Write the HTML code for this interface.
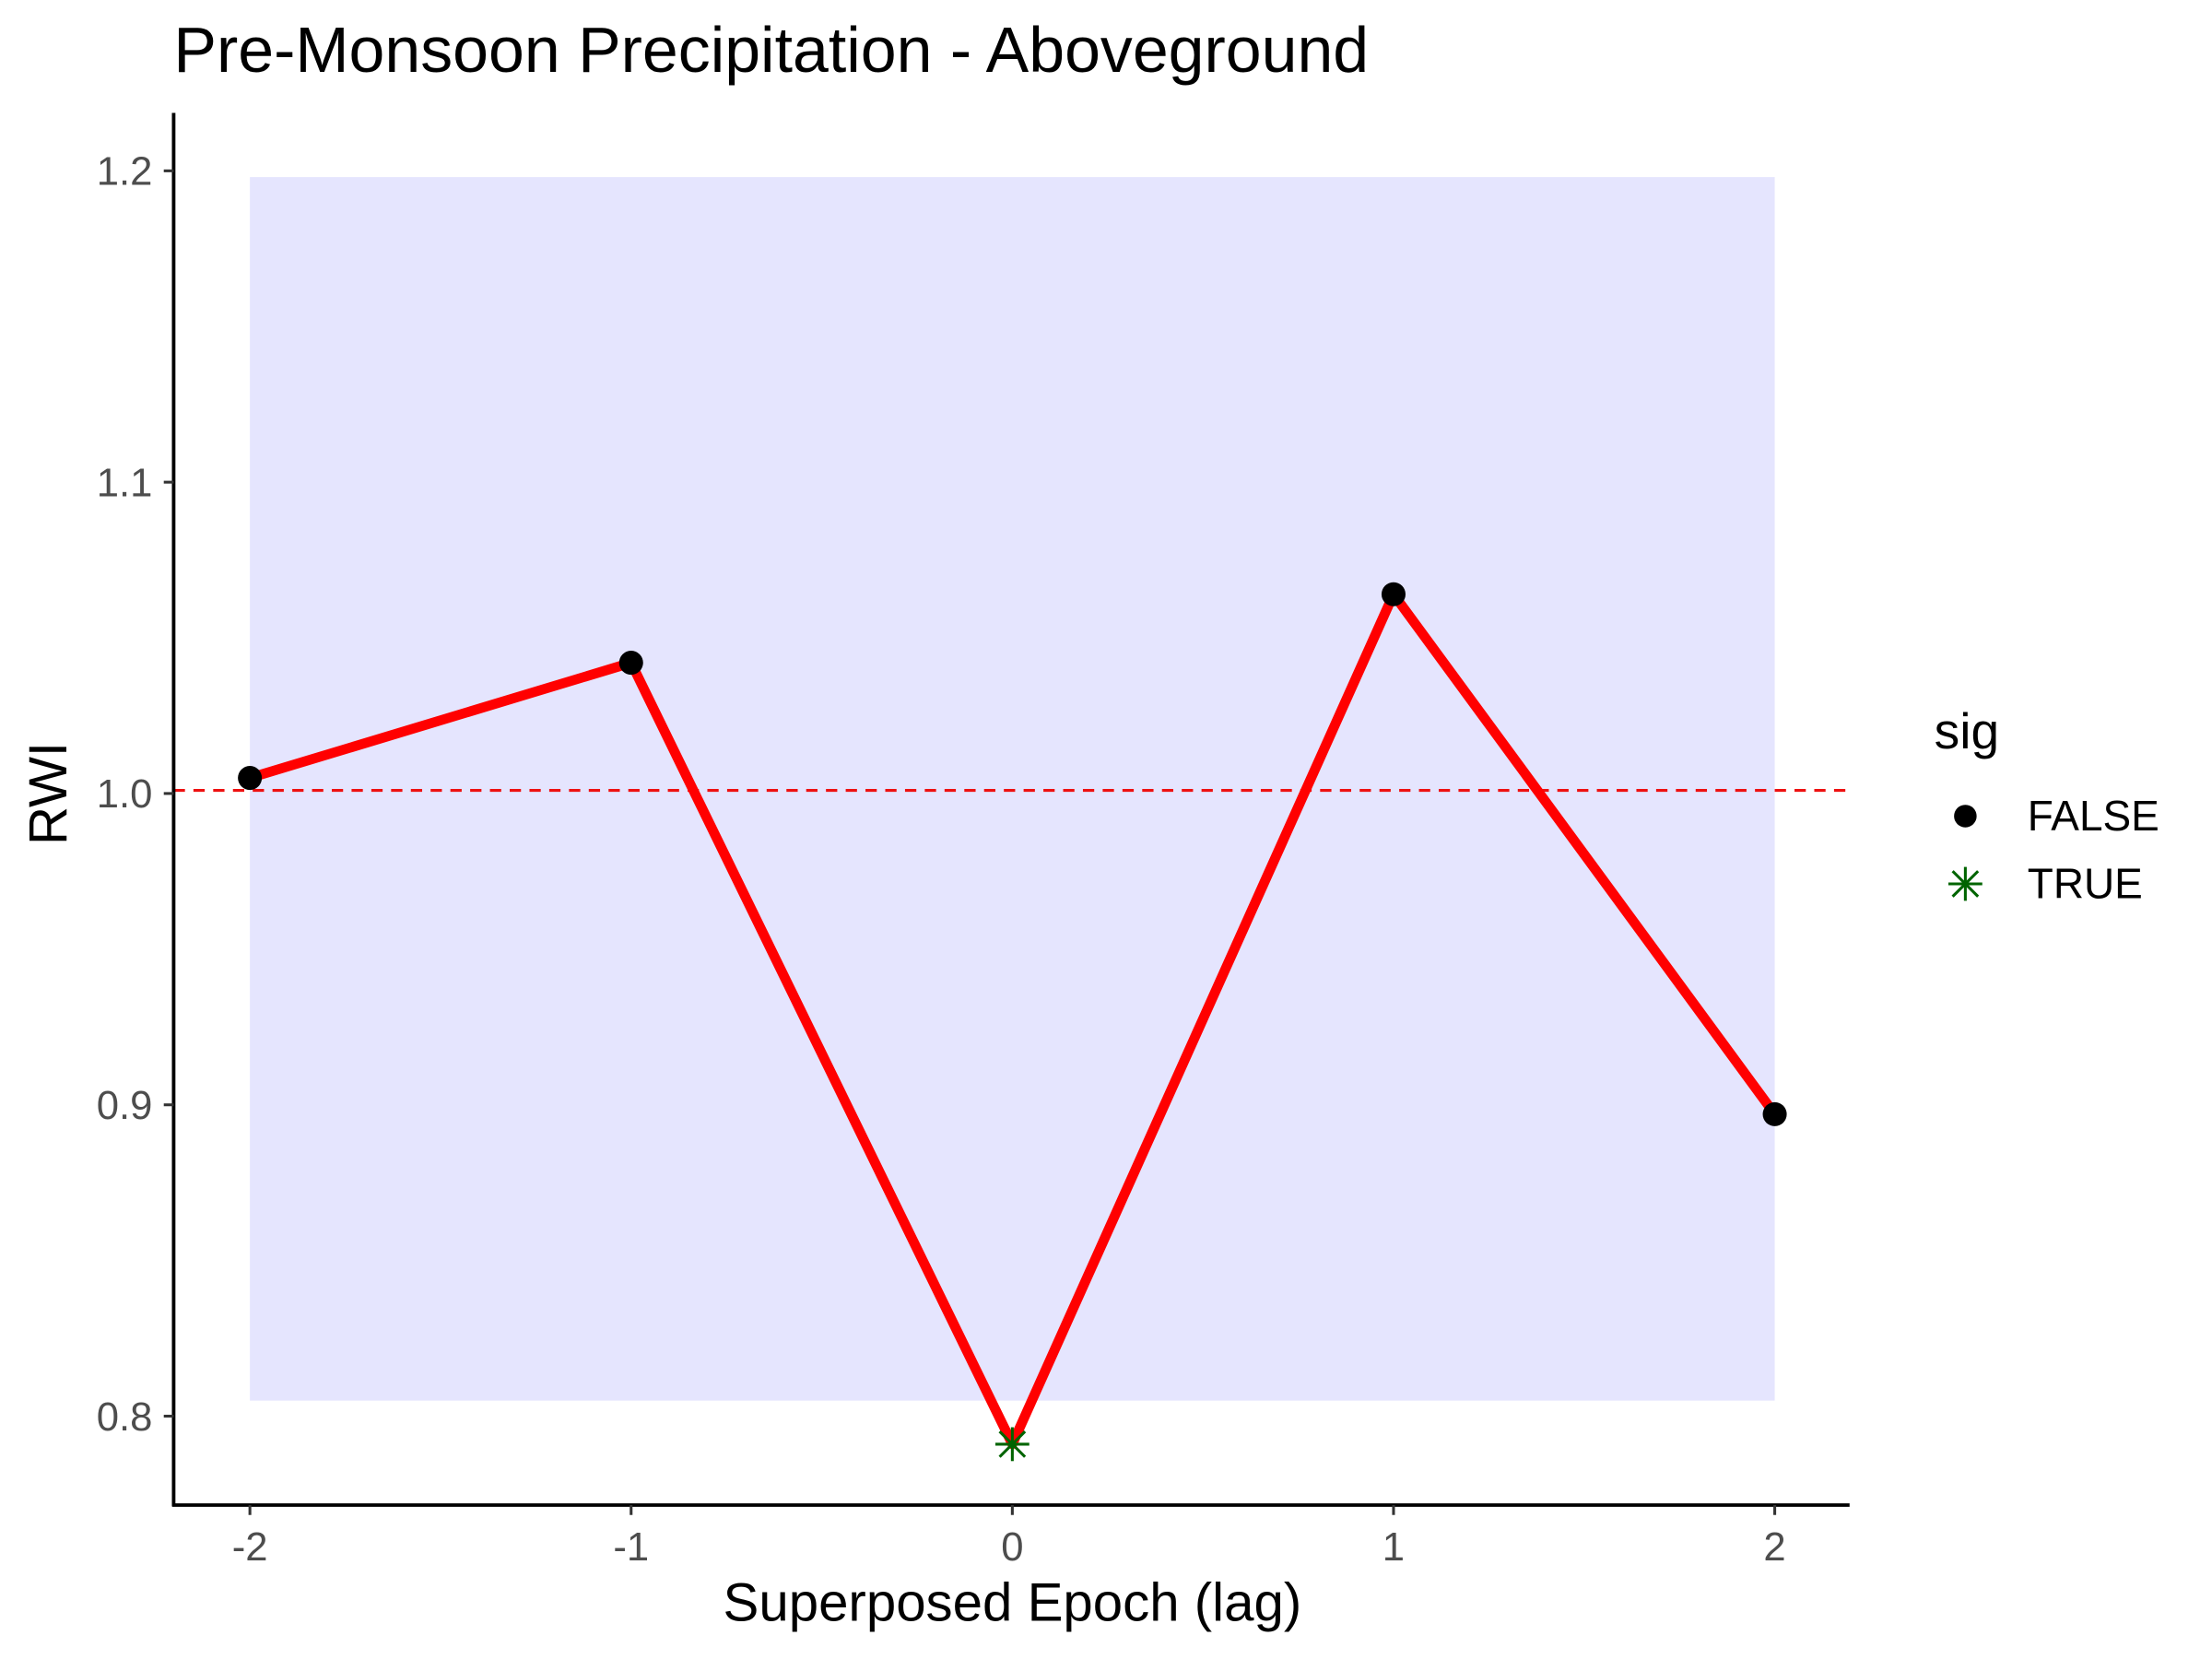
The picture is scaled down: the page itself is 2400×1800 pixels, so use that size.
<!DOCTYPE html>
<html><head><meta charset="utf-8"><style>
html,body{margin:0;padding:0;background:#fff;}
svg{display:block;font-family:"Liberation Sans",Arial,sans-serif;}
</style></head><body>
<svg id="chart" width="2400" height="1800" viewBox="0 0 1566.7 1175" preserveAspectRatio="none" xmlns="http://www.w3.org/2000/svg">
<rect width="1600" height="1200" fill="#fff"/>
<text x="123" y="51" font-size="45.6" fill="#000">Pre-Monsoon Precipitation - Aboveground</text>
<g id="plot"></g>
<text x="717" y="1148" font-size="38" text-anchor="middle">Superposed Epoch (lag)</text>
<text transform="translate(47,562) rotate(-90)" font-size="38" text-anchor="middle">RWI</text>
<g>
<text x="1370" y="530" font-size="36">sig</text>
<circle cx="1392" cy="578" r="8" fill="#000"/>
<text x="1436" y="588" font-size="30">FALSE</text>
<g stroke="#006400" stroke-width="2">
<line x1="1380" y1="626" x2="1404" y2="626"/><line x1="1392" y1="614" x2="1392" y2="638"/>
<line x1="1383" y1="617" x2="1401" y2="635"/><line x1="1401" y1="617" x2="1383" y2="635"/></g>
<text x="1436" y="636" font-size="30">TRUE</text>
</g>
</svg>
<script>
const lags=[-2,-1,0,1,2];
const rwi=[1.005,1.042,0.791,1.064,0.897];
const sig=[false,false,true,false,false];
const ciLower=0.805, ciUpper=1.198, refLine=1.001;
const yTicks=[0.8,0.9,1.0,1.1,1.2];
const yTickLabels=["0.8","0.9","1.0","1.1","1.2"];
const xTickLabels=["-2","-1","0","1","2"];
const ns="http://www.w3.org/2000/svg";
const X=v=>177+(v+2)*270;
const Y=v=>1003-(v-0.8)*2205;
const g=document.getElementById('plot');
function mk(t,a,p){const e=document.createElementNS(ns,t);for(const k in a)e.setAttribute(k,a[k]);(p||g).appendChild(e);return e;}
let r=mk('rect',{x:X(-2),y:Y(ciUpper),width:X(2)-X(-2),height:Y(ciLower)-Y(ciUpper),fill:'#e5e5fe'});


let d=mk('line',{x1:123,x2:1310,y1:Y(refLine),y2:Y(refLine),stroke:'#ee1111','stroke-width':2,'stroke-dasharray':'8,6'});


let ln=mk('polyline',{points:lags.map((l,i)=>X(l)+','+Y(rwi[i])).join(' '),fill:'none',stroke:'#ff0000','stroke-width':7,'stroke-linejoin':'round'});


lags.forEach((l,i)=>{
  const cx=X(l),cy=Y(rwi[i]);
  if(sig[i]){
    const s=mk('g',{stroke:'#006400','stroke-width':2});
    
    
    [[-12,0,12,0],[0,-12,0,12],[-9,-9,9,9],[9,-9,-9,9]].forEach(q=>mk('line',{x1:cx+q[0],y1:cy+q[1],x2:cx+q[2],y2:cy+q[3]},s));
  }else{
    const c=mk('circle',{cx:cx,cy:cy,r:8.5,fill:'#000'});
    
    
  }
});
let ya=mk('line',{x1:123,x2:123,y1:80,y2:1067,stroke:'#000','stroke-width':2.5});


let xa=mk('line',{x1:122,x2:1310,y1:1066,y2:1066,stroke:'#000','stroke-width':2.5});


yTicks.forEach((v,i)=>{
  mk('line',{x1:116,x2:123,y1:Y(v),y2:Y(v),stroke:'#333','stroke-width':2});
  const t=mk('text',{x:108,y:Y(v)+10,'font-size':28.5,fill:'#4d4d4d','text-anchor':'end'});
  t.textContent=yTickLabels[i];
  
  
});
lags.forEach((l,i)=>{
  mk('line',{x1:X(l),x2:X(l),y1:1066,y2:1073,stroke:'#333','stroke-width':2});
  const t=mk('text',{x:X(l),y:1105,'font-size':28.5,fill:'#4d4d4d','text-anchor':'middle'});
  t.textContent=xTickLabels[i];
  
  
});
</script>
</body></html>
